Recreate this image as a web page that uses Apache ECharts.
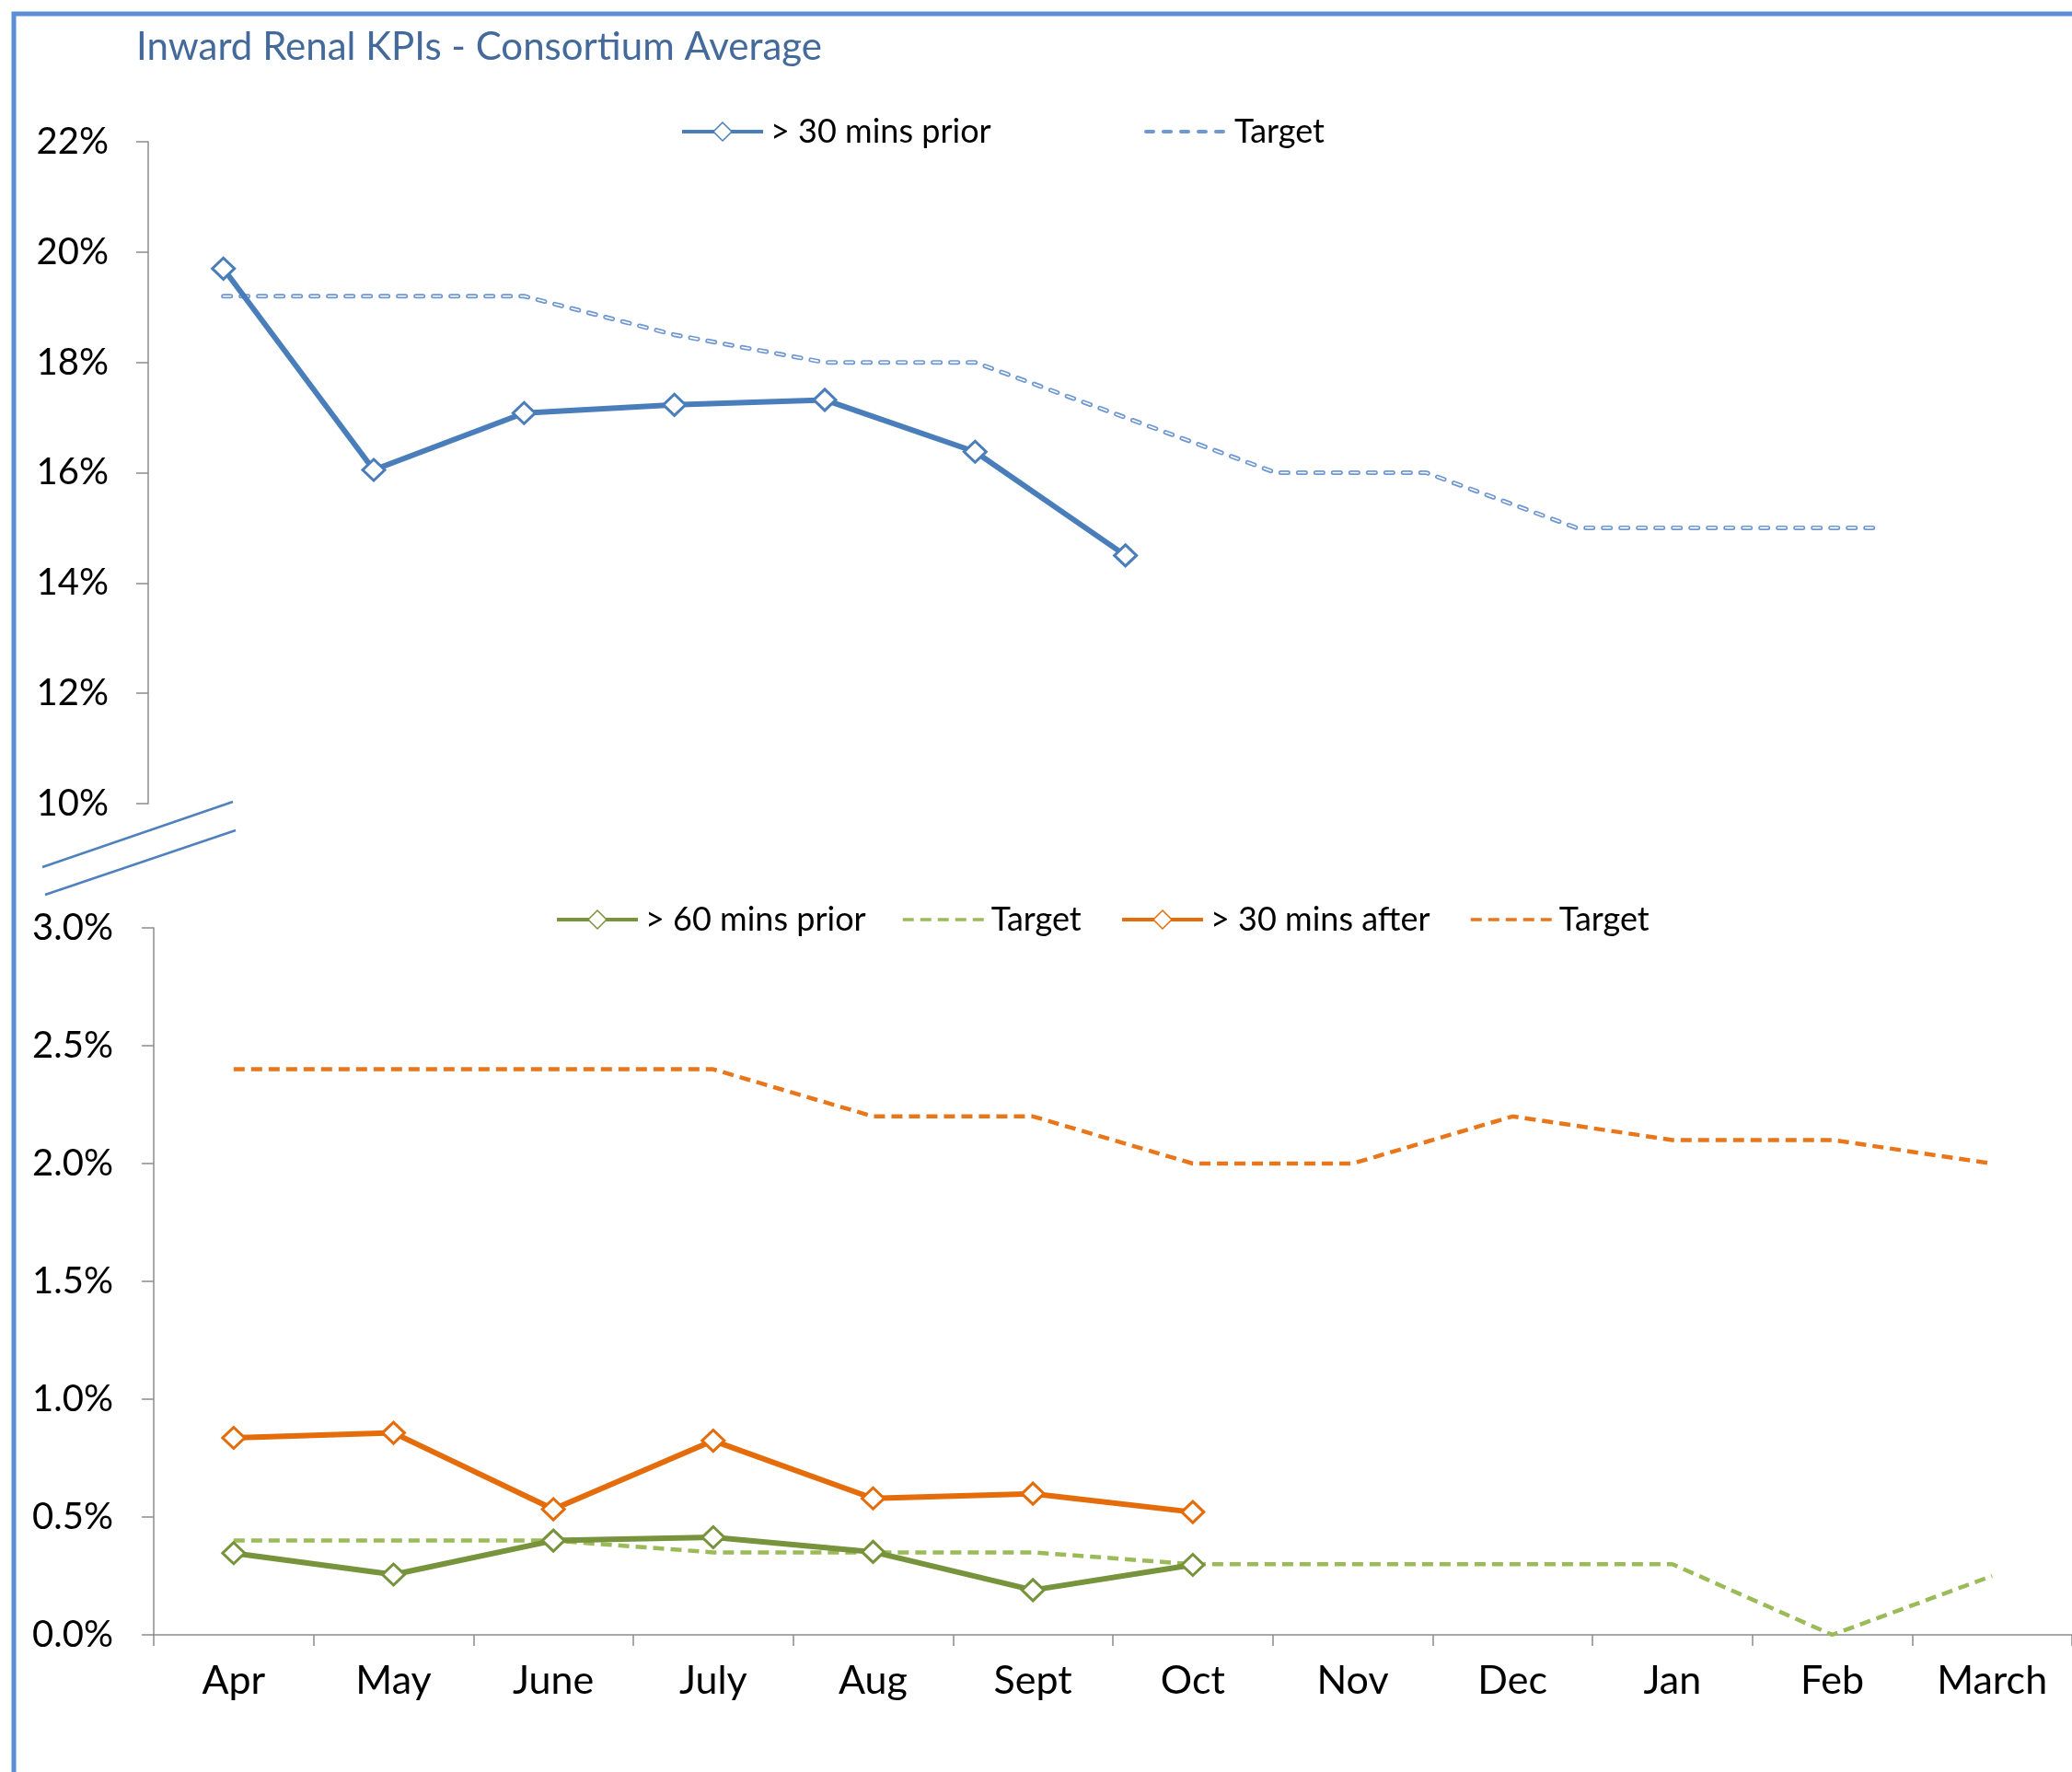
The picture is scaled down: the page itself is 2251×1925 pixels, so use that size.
<!DOCTYPE html>
<html>
<head>
<meta charset="utf-8">
<title>Inward Renal KPIs</title>
<script src="https://cdn.jsdelivr.net/npm/echarts@6/dist/echarts.min.js"></script>
<style>
  html, body { margin: 0; padding: 0; background: #fff; }
  #main { width: 2251px; height: 1925px; }
</style>
</head>
<body>
<div id="main"></div>
<script>
  // months of the financial year
  const months = ['Apr', 'May', 'June', 'July', 'Aug', 'Sept', 'Oct', 'Nov', 'Dec', 'Jan', 'Feb', 'March']

  // top panel (%), actuals only run Apr..Oct
  const prior30 = [19.7, 16.05, 17.08, 17.23, 17.32, 16.38, 14.5]
  const prior30Target = [19.2, 19.2, 19.2, 18.5, 18, 18, 17, 16, 16, 15, 15, 15]

  // bottom panel (%)
  const prior60 = [0.347, 0.256, 0.40, 0.414, 0.352, 0.19, 0.297]
  const prior60Target = [0.4, 0.4, 0.4, 0.35, 0.35, 0.35, 0.3, 0.3, 0.3, 0.3, 0, 0.25]
  const after30 = [0.836, 0.857, 0.533, 0.824, 0.579, 0.599, 0.521]
  const after30Target = [2.4, 2.4, 2.4, 2.4, 2.2, 2.2, 2.0, 2.0, 2.2, 2.1, 2.1, 2.0]

  // tick labels
  const topTicks = { min: 10, max: 22, step: 2 }
  const bottomTicks = { min: 0, max: 3, step: 0.5 }

  const FONT = 'Lato'
  const BLUE = '#4A7EBB'
  const BLUE_T = '#6F97D0'
  const GREEN = '#77933C'
  const GREEN_T = '#9BBB59'
  const ORANGE = '#E46C0A'
  const ORANGE_T = '#E8761A'

  // solid line with hollow diamonds
  function actual(name, data, color, axis) {
    return {
      name: name,
      type: 'line',
      xAxisIndex: axis,
      yAxisIndex: axis,
      data: data,
      symbol: 'diamond',
      symbolSize: [24, 23],
      lineStyle: { color: color, width: 6 },
      itemStyle: { color: '#fff', borderColor: color, borderWidth: 3 },
      z: 5
    }
  }

  // dashed target line, no markers
  function target(name, data, color, axis, width, dash, cap) {
    return {
      name: name,
      type: 'line',
      xAxisIndex: axis,
      yAxisIndex: axis,
      data: data,
      symbol: 'none',
      lineStyle: { color: color, width: width, type: dash, cap: cap || 'butt' },
      itemStyle: { color: color },
      z: 3
    }
  }

  function legendAt(name, left, top, lineWidth, isTarget) {
    return {
      data: [name],
      left: left,
      top: top,
      padding: 0,
      itemWidth: 88,
      itemHeight: 25,
      itemGap: 0,
      selectedMode: false,
      lineStyle: { width: lineWidth },
      itemStyle: isTarget ? { opacity: 0 } : { borderWidth: 1.5 },
      textStyle: { fontFamily: FONT, fontSize: 36, color: '#000', padding: [0, 0, 0, 3] },
      formatter: function (n) { return n.indexOf('Target') === 0 ? 'Target' : n }
    }
  }

  const axisGray = { show: true, onZero: false, lineStyle: { color: '#8C8C8C', width: 1.5 } }
  const tickGray = { show: true, length: 13, lineStyle: { color: '#8C8C8C', width: 1.5 } }

  // the top target is drawn as hollow dashes: blue dash with a thin white core
  let topTarget = target('Target (30 prior)', prior30Target, BLUE_T, 0, 5, [8, 11], 'round')
  let topTargetCore = target('Target core', prior30Target, '#fff', 0, 1.6, [8, 11], 'round')
  topTargetCore.z = 4

  let myChart = echarts.init(document.getElementById('main'))

  myChart.setOption({
    backgroundColor: '#fff',
    animation: false,
    title: {
      text: 'Inward Renal KPIs - Consortium Average',
      left: 148,
      top: 30,
      padding: 0,
      textStyle: { fontFamily: FONT, fontSize: 42, fontWeight: 'normal', color: '#44699B' }
    },
    legend: [
      legendAt('> 30 mins prior', 739, 125, 4, false),
      legendAt('Target (30 prior)', 1243, 125, 4, true),
      legendAt('> 60 mins prior', 603, 981, 4, false),
      legendAt('Target (60 prior)', 979, 981, 3.5, true),
      legendAt('> 30 mins after', 1217, 981, 4, false),
      legendAt('Target (30 after)', 1596, 981, 3.5, true)
    ],
    grid: [
      { left: 161, right: 130, top: 154, bottom: 1052 },
      { left: 167, right: -6, top: 1008, bottom: 149 }
    ],
    xAxis: [
      { type: 'category', gridIndex: 0, data: months, show: false },
      {
        type: 'category',
        gridIndex: 1,
        data: months,
        axisLine: axisGray,
        axisTick: { show: true, length: 12, lineStyle: { color: '#8C8C8C', width: 1.5 } },
        axisLabel: { fontFamily: FONT, fontSize: 43, color: '#000', margin: 29 },
        splitLine: { show: false }
      }
    ],
    yAxis: [
      {
        type: 'value',
        gridIndex: 0,
        min: topTicks.min,
        max: topTicks.max,
        interval: topTicks.step,
        axisLine: axisGray,
        axisTick: tickGray,
        splitLine: { show: false },
        axisLabel: {
          fontFamily: FONT, fontSize: 40, color: '#000', margin: 43,
          formatter: function (v) { return v + '%' }
        }
      },
      {
        type: 'value',
        gridIndex: 1,
        min: bottomTicks.min,
        max: bottomTicks.max,
        interval: bottomTicks.step,
        axisLine: axisGray,
        axisTick: tickGray,
        splitLine: { show: false },
        axisLabel: {
          fontFamily: FONT, fontSize: 40, color: '#000', margin: 44,
          formatter: function (v) { return v.toFixed(1) + '%' }
        }
      }
    ],
    series: [
      actual('> 30 mins prior', prior30, BLUE, 0),
      topTarget,
      topTargetCore,
      actual('> 60 mins prior', prior60, GREEN, 1),
      target('Target (60 prior)', prior60Target, GREEN_T, 1, 4.5, [12, 7]),
      actual('> 30 mins after', after30, ORANGE, 1),
      target('Target (30 after)', after30Target, ORANGE_T, 1, 4.5, [12, 7])
    ],
    graphic: [
      // frame of the chart area, only top and left edges are in view
      {
        type: 'rect', silent: true, z: 100,
        shape: { x: 15, y: 15, width: 2400, height: 2100 },
        style: { fill: 'none', stroke: '#5B8ED6', lineWidth: 5 }
      },
      // axis break marks between the two panels
      {
        type: 'line', silent: true,
        shape: { x1: 46, y1: 942, x2: 253, y2: 871 },
        style: { stroke: '#4F81BD', lineWidth: 2.5 }
      },
      {
        type: 'line', silent: true,
        shape: { x1: 49, y1: 972, x2: 256, y2: 902 },
        style: { stroke: '#4F81BD', lineWidth: 2.5 }
      }
    ]
  })
</script>
</body>
</html>
